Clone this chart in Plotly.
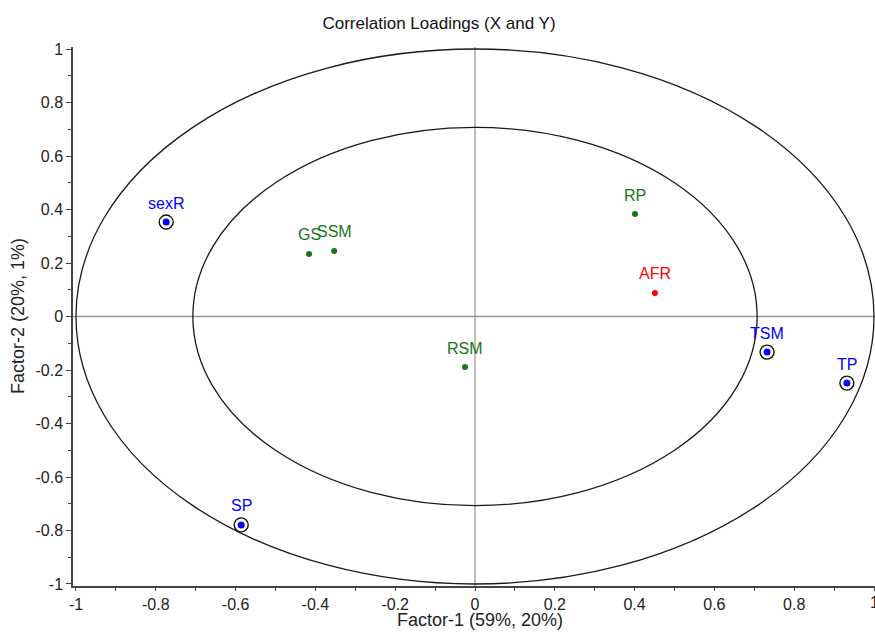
import plotly.graph_objects as go

# Data
labels = ["sexR", "GS", "SSM", "RP", "AFR", "RSM", "TSM", "TP", "SP"]
factor1 = [-0.774, -0.416, -0.353, 0.401, 0.451, -0.025, 0.732, 0.932, -0.586]
factor2 = [0.353, 0.234, 0.245, 0.383, 0.088, -0.189, -0.133, -0.249, -0.779]
groups = ["y", "x", "x", "x", "r", "x", "y", "y", "y"]  # y=blue ringed, x=green, r=red

tick_vals = [-1, -0.8, -0.6, -0.4, -0.2, 0, 0.2, 0.4, 0.6, 0.8, 1]
tick_text = ["-1", "-0.8", "-0.6", "-0.4", "-0.2", "0", "0.2", "0.4", "0.6", "0.8", "1"]
inner_r = 0.7071

colors = {"y": "#0000FF", "x": "#177517", "r": "#FF0000"}
FONT = "Liberation Sans, Arial, sans-serif"

W, H = 875, 634
ML, MR, MT, MB = 73, 0, 47, 48
PW, PH = W - ML - MR, H - MT - MB

fig = go.Figure()

# Ellipses & crosshairs
fig.add_shape(type="circle", xref="x", yref="y", x0=-1, x1=1, y0=-1, y1=1,
              line=dict(color="#1a1a1a", width=1.3))
fig.add_shape(type="circle", xref="x", yref="y", x0=-inner_r, x1=inner_r, y0=-inner_r, y1=inner_r,
              line=dict(color="#1a1a1a", width=1.3))
fig.add_shape(type="line", xref="x", yref="paper", x0=0, x1=0, y0=0, y1=1,
              line=dict(color="#9a9a9a", width=1.3), layer="below")
fig.add_shape(type="line", xref="paper", yref="y", x0=0, x1=1, y0=0, y1=0,
              line=dict(color="#9a9a9a", width=1.3), layer="below")

# rings for Y variables
rx = [x for x, g in zip(factor1, groups) if g == "y"]
ry = [y for y, g in zip(factor2, groups) if g == "y"]
fig.add_trace(go.Scatter(x=rx, y=ry, mode="markers",
                         marker=dict(symbol="circle-open", size=14, color="#111111", line=dict(width=1.4)),
                         hoverinfo="skip", showlegend=False, cliponaxis=False))

for g, size in [("x", 6), ("r", 6), ("y", 7)]:
    xs = [x for x, gg in zip(factor1, groups) if gg == g]
    ys = [y for y, gg in zip(factor2, groups) if gg == g]
    fig.add_trace(go.Scatter(x=xs, y=ys, mode="markers",
                             marker=dict(size=size, color=colors[g]),
                             showlegend=False))

for lab, x, y, g in zip(labels, factor1, factor2, groups):
    fig.add_annotation(x=x, y=y, text=lab, showarrow=False, yshift=19,
                       font=dict(size=16, color=colors[g], family=FONT))

# axis titles as annotations for exact placement
fig.add_annotation(xref="paper", yref="paper", x=(480 - ML) / PW, y=-(620 - (MT + PH)) / PH,
                   text="Factor-1 (59%, 20%)", showarrow=False, xanchor="center", yanchor="middle",
                   font=dict(size=18, color="#222222", family=FONT))
fig.add_annotation(xref="paper", yref="paper", x=(18 - ML) / PW, y=((MT + PH) - 316) / PH,
                   text="Factor-2 (20%, 1%)", showarrow=False, xanchor="center", yanchor="middle",
                   textangle=-90, font=dict(size=18, color="#222222", family=FONT))
# last x tick label, partly cut at the right edge as in the reference
fig.add_annotation(xref="x", yref="paper", x=tick_vals[-1], y=-(602 - (MT + PH)) / PH,
                   text=tick_text[-1], showarrow=False, xanchor="center", yanchor="middle",
                   font=dict(size=16, color="#222222", family=FONT))

axis_common = dict(
    tickvals=tick_vals, ticktext=tick_text,
    showgrid=False, zeroline=False,
    showline=True, linecolor="#444444", linewidth=1.5,
    ticks="outside", tickcolor="#444444", tickwidth=1.2,
    minor=dict(ticks="outside", dtick=0.1, ticklen=3, tickcolor="#444444", tickwidth=1.2),
    tickfont=dict(size=16, color="#222222", family=FONT),
    automargin=False,
)

fig.update_layout(
    width=W, height=H,
    margin=dict(l=ML, r=MR, t=MT, b=MB, autoexpand=False),
    paper_bgcolor="white", plot_bgcolor="white",
    font=dict(family=FONT, color="#222222"),
    title=dict(text="Correlation Loadings (X and Y)", xref="container", x=439 / W, xanchor="center",
               y=1 - 23 / H, yanchor="middle",
               font=dict(size=17, color="#111111", family=FONT)),
    xaxis=dict(range=[-1.0075, 1.0025], ticklen=3, **axis_common),
    yaxis=dict(range=[-1.0075, 1.0075], ticklen=5, **axis_common),
)

fig.write_html("out.html", config={"displayModeBar": False},
               post_script="document.body.style.margin='0';document.body.style.overflow='hidden';")
